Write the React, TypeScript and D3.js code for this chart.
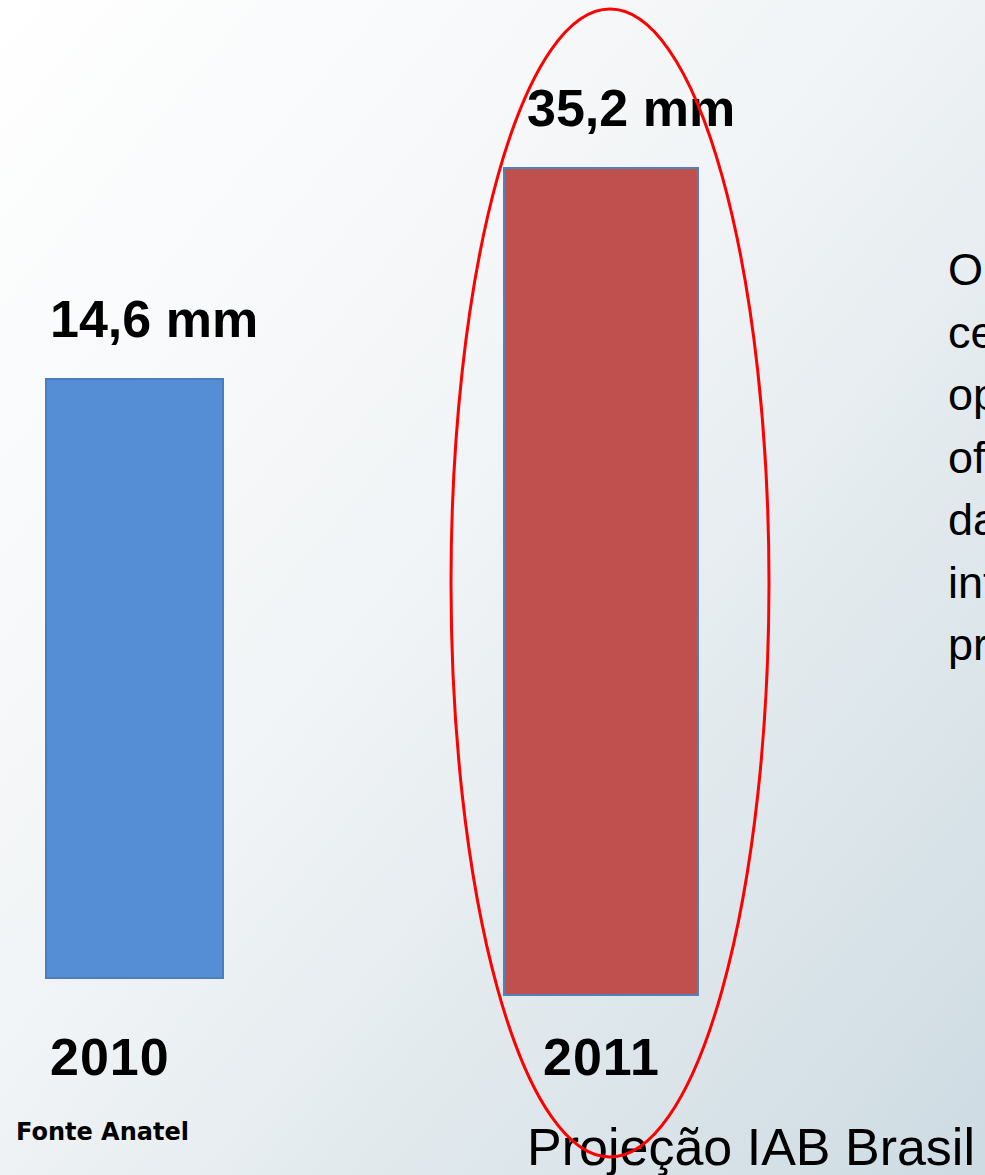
import React from "react";
import * as d3 from "d3";

const years = ["2010", "2011"];
const values = [14.6, 35.2];
const valueLabels = ["14,6 mm", "35,2 mm"];
const barColors = ["#558ed5", "#c0504d"];
const barStrokes = ["#4a7ebf", "#4f81bd"];
const sideText = ["O crescimento", "celular é", "operadoras", "oferecendo", "dados e", "internet", "pré-pago"];
const sourceLabel = "Fonte Anatel";
const projectionLabel = "Projeção IAB Brasil";

const W = 985;
const H = 1175;

export default function App() {
  // value -> top of bar (stylized, non-zero baseline as in the original slide)
  const y = d3.scaleLinear().domain([14.6, 35.2]).range([379, 168]);
  const x = d3.scaleOrdinal<string, number>().domain(years).range([46, 504]);
  const widths = [177, 194];
  const bottoms = [978, 995];
  const labelX = [50, 527];
  const yearX = [50, 543];

  return (
    <svg
      width={W}
      height={H}
      style={{ position: "absolute", left: 0, top: 0, display: "block" }}
    >
      <defs>
        <linearGradient id="bg" x1="0" y1="0" x2="1" y2="1" gradientUnits="objectBoundingBox">
          <stop offset="0" stopColor="#ffffff" />
          <stop offset="0.45" stopColor="#f1f4f6" />
          <stop offset="1" stopColor="#cddbe2" />
        </linearGradient>
        <clipPath id="clip">
          <rect x={0} y={0} width={W} height={H} />
        </clipPath>
      </defs>
      <rect x={0} y={0} width={W} height={H} fill="url(#bg)" />
      <g clipPath="url(#clip)">
        {years.map((yr, i) => (
          <rect
            key={yr}
            x={x(yr)}
            y={y(values[i])}
            width={widths[i]}
            height={bottoms[i] - y(values[i])}
            fill={barColors[i]}
            stroke={barStrokes[i]}
            strokeWidth={2}
          />
        ))}
        {years.map((yr, i) => (
          <text
            key={"v" + yr}
            x={labelX[i]}
            y={y(values[i]) - 42}
            fontFamily="Liberation Sans, Arial, sans-serif"
            fontWeight="bold"
            fontSize={52}
            fill="#000"
          >
            {valueLabels[i]}
          </text>
        ))}
        {years.map((yr, i) => (
          <text
            key={"y" + yr}
            x={yearX[i]}
            y={1075}
            fontFamily="Liberation Sans, Arial, sans-serif"
            fontWeight="bold"
            fontSize={52}
            letterSpacing={1}
            fill="#000"
          >
            {yr}
          </text>
        ))}
        <text
          x={16}
          y={1140}
          fontFamily="DejaVu Sans, Verdana, sans-serif"
          fontWeight="bold"
          fontSize={24}
          fill="#000"
        >
          {sourceLabel}
        </text>
        <text
          x={527}
          y={1165}
          fontFamily="Liberation Sans, Arial, sans-serif"
          fontSize={52}
          fill="#000"
        >
          {projectionLabel}
        </text>
        {sideText.map((t, i) => (
          <text
            key={"s" + i}
            x={948}
            y={285 + i * 62.5}
            fontFamily="Liberation Sans, Arial, sans-serif"
            fontSize={45}
            fill="#000"
          >
            {t}
          </text>
        ))}
        <ellipse cx={610} cy={583} rx={159} ry={574} fill="none" stroke="#ff0000" strokeWidth={3} />
      </g>
    </svg>
  );
}
